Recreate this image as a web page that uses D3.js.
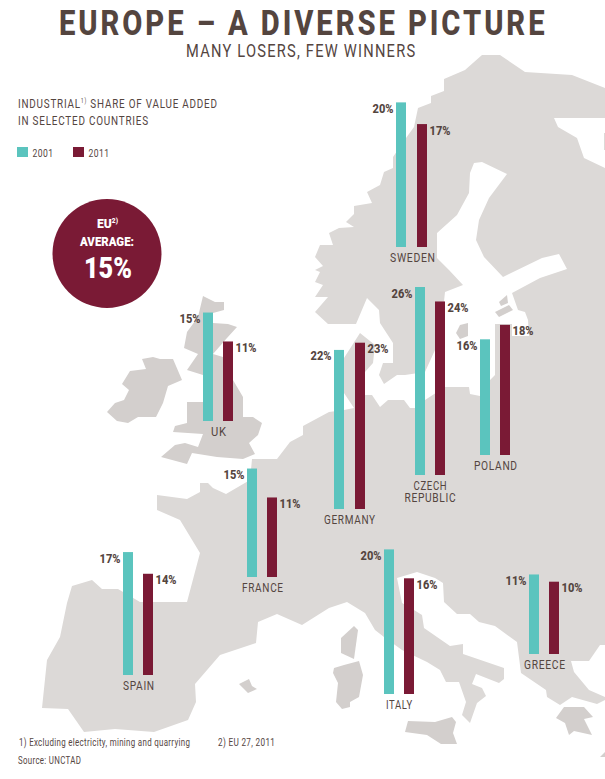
<!DOCTYPE html>
<html><head><meta charset="utf-8">
<script src="https://cdnjs.cloudflare.com/ajax/libs/d3/7.8.5/d3.min.js"></script>
<style>html,body{margin:0;padding:0;background:#fff}svg{display:block}text{font-family:Roboto,"Liberation Sans",sans-serif}</style>
</head><body><svg id="c" width="605" height="779"></svg>
<script>
const countries = ["SWEDEN","CZECH REPUBLIC","POLAND","GERMANY","UK","FRANCE","SPAIN","ITALY","GREECE"];
const values2001 = [20,26,16,22,15,15,17,20,11];
const values2011 = [17,24,18,23,11,11,14,16,10];
const years = ["2001","2011"];
const groupX = [396,415,480,334,203,247,123,384,529];
const groupBase = [247,475,455,509,421,577,675,694,654];
const groupSpan = [31,30,30,31,30,30,30,30,30];
const labelCentre = [412.5,430,495.5,349.5,218.5,262.5,138.5,399,544.5];
const labelWidth = [[45],[33,51],[43],[51],[15],[41],[31],[26],[41]];

const mainland = [[157,495],[187,499],[200,492],[200,483],[208,483],[213,488],[226,494],[250,480],[252,459],[277,459],[290,442],[303,435],[303,426],[329,412],[344,410],[354,408],[344,393],[344,358],[360,333],[375,345],[373,363],[365,372],[365,395],[372,395],[380,407],[388,400],[404,400],[410,408],[425,408],[425,400],[445,387],[469,387],[470,394],[480,396],[490,380],[495,375],[495,324],[512,324],[512,336],[529,336],[528,320],[525,312],[518,310],[512,293],[540,278],[567,269],[559,254],[542,258],[503,277],[484,257],[476,240],[479,220],[489,198],[507,174],[482,162],[474,163],[470,173],[469,193],[457,215],[437,233],[437,258],[449,270],[463,285],[445,292],[441,330],[435,350],[425,372],[405,375],[397,375],[384,384],[379,375],[383,363],[393,363],[393,343],[380,323],[379,310],[367,298],[356,324],[328,324],[315,312],[328,297],[315,297],[323,285],[315,282],[320,272],[315,270],[323,266],[315,257],[320,245],[333,245],[329,233],[339,228],[354,227],[346,222],[354,214],[354,206],[372,203],[367,192],[380,185],[384,172],[393,168],[393,157],[406,138],[414,127],[418,108],[431,103],[431,96],[444,91],[444,79],[465,70],[482,55],[500,55],[525,72],[572,75],[605,88],[605,118],[554,118],[558,127],[577,138],[584,158],[605,168],[605,645],[600,645],[589,661],[571,661],[574,672],[589,690],[605,697],[605,700],[597,704],[572,697],[560,705],[547,697],[546,690],[521,673],[517,642],[495,626],[479,622],[470,614],[457,614],[444,602],[443,583],[435,578],[417,572],[397,578],[402,603],[414,610],[422,615],[424,628],[450,646],[463,644],[463,654],[504,668],[504,679],[499,683],[476,674],[472,684],[482,688],[486,696],[477,703],[470,723],[462,715],[466,702],[459,682],[446,682],[440,670],[427,662],[402,650],[384,637],[375,630],[365,613],[347,602],[329,608],[302,625],[277,614],[258,622],[256,643],[220,655],[195,684],[196,702],[188,720],[154,732],[115,729],[84,732],[68,709],[42,708],[47,660],[60,637],[67,603],[72,586],[92,580],[102,589],[118,589],[140,602],[187,602],[200,553],[180,520],[157,510]];
const strip = [[604,133],[605,133],[605,150],[604,150]];
const islands = [
 [[107,412],[115,403],[124,400],[129,390],[122,384],[130,371],[146,369],[142,359],[153,357],[160,359],[173,359],[182,380],[168,386],[163,403],[156,417],[138,417],[128,423],[117,421]],
 [[203,296],[215,302],[224,302],[224,310],[213,313],[213,323],[228,324],[237,327],[227,338],[213,354],[223,357],[233,380],[243,397],[243,417],[253,417],[262,423],[258,435],[249,443],[255,454],[243,459],[217,457],[192,453],[187,464],[161,457],[175,445],[185,443],[198,447],[203,434],[173,432],[175,426],[187,423],[187,402],[203,402],[203,375],[187,370],[198,354],[184,348],[187,332],[198,317]],
 [[556,718],[564,707],[584,707],[593,717],[584,719],[592,735],[574,731],[569,735],[565,723]],
 [[408,721],[435,722],[452,717],[456,722],[453,733],[457,744],[441,744],[427,735],[405,732]],
 [[341,638],[354,626],[358,630],[354,659],[341,653]],
 [[334,668],[344,665],[359,661],[363,675],[359,697],[350,702],[350,707],[342,709],[336,702],[338,683],[333,673]],
 [[239,684],[249,679],[252,686],[257,689],[248,693]],
 [[600,757],[605,752],[605,757]],
 [[456,333],[460,325],[468,323],[468,336],[460,339]],
 [[499,302],[507,295],[508,303],[501,306]],
 [[495,312],[509,305],[513,310],[499,317]]
];

const ink = "#54453f", teal = "#5bc4be", wine = "#7a1a35", land = "#dcd9d7", isle = "#d3cfcd";
const svg = d3.select("#c");
const line = d3.line().curve(d3.curveLinearClosed);
const h = d3.scaleLinear().domain([0,26]).range([0,188]);

svg.append("path").attr("d", line(mainland)).attr("fill", land);
svg.append("path").attr("d", line(strip)).attr("fill", land);
svg.selectAll("path.isle").data(islands).join("path").attr("class","isle").attr("d", line).attr("fill", isle);

// draw a text, then squeeze it horizontally to the width it has in the picture
function fit(t, x, y, w, size, weight, fill, track, parts){
  const s = svg.append("text").attr("font-size",size).attr("font-weight",weight||400)
    .attr("fill",fill||ink).attr("letter-spacing",track||0);
  if (parts) parts.forEach(p=>{
    const sp = s.append("tspan").text(p.text);
    if (p.dy) sp.attr("dy",p.dy);
    if (p.size) sp.attr("font-size",p.size);
  }); else s.text(t);
  const k = (w+(track||0)) / s.node().getComputedTextLength();
  s.attr("transform",`translate(${x},${y}) scale(${k},1)`);
  return s;
}
fit("EUROPE – A DIVERSE PICTURE",59,35,485,35,800,ink,3.5);
fit("MANY LOSERS, FEW WINNERS",186,57,229,18,400,ink,1.5);
fit("",18,107.5,199,12.5,400,ink,1,[{text:"INDUSTRIAL"},{text:"1)",dy:-5,size:6.5},{text:" SHARE OF VALUE ADDED",dy:5}]);
fit("IN SELECTED COUNTRIES",18,125,130,12.5,400,ink,1);

const legendX = [17,73];
svg.selectAll("rect.lg").data(years).join("rect").attr("class","lg")
  .attr("x",(d,i)=>legendX[i]).attr("y",147).attr("width",11).attr("height",10)
  .attr("fill",(d,i)=>i?wine:teal);
years.forEach((y,i)=>fit(y,legendX[i]+15.5,157,20.5,10,400,ink,.5));

svg.append("circle").attr("cx",107).attr("cy",253.5).attr("r",54.5).attr("fill",wine);
fit("",97,228,21,12,900,"#fff",0,[{text:"EU"},{text:"2)",dy:-5,size:6.5}]);
fit("AVERAGE:",80,246,54,12,900,"#fff");
fit("15%",84,278,48,29,900,"#fff");

countries.forEach((name,i)=>{
  const S = groupSpan[i], bw = 10;
  const x = d3.scaleBand().domain(years).range([groupX[i],groupX[i]+S]).paddingInner((S-20)/(S-10));
  [values2001[i],values2011[i]].forEach((v,j)=>{
    const bx = x(years[j]);
    const top = groupBase[i]-h(v);
    svg.append("rect").attr("x",bx).attr("y",top).attr("width",x.bandwidth()).attr("height",h(v)).attr("fill",j?wine:teal);
    fit(v+"%", j? bx+bw+2.5 : bx-23.5, top+10.5, 21, 12.5, 800);
  });
  name.split(" ").forEach((w,k,arr)=>{
    const lw = labelWidth[i][k];
    const dy = arr.length>1 ? 15+k*12 : 15;
    fit(w, labelCentre[i]-lw/2, groupBase[i]+dy, lw, 12, 400, ink, .8);
  });
});

fit("1) Excluding electricity, mining and quarrying",19,746,171,10,400,ink,.4);
fit("2) EU 27, 2011",218,746,57,10,400,ink,.4);
fit("Source: UNCTAD",18,764,63,10,400,ink,.4);
</script></body></html>
